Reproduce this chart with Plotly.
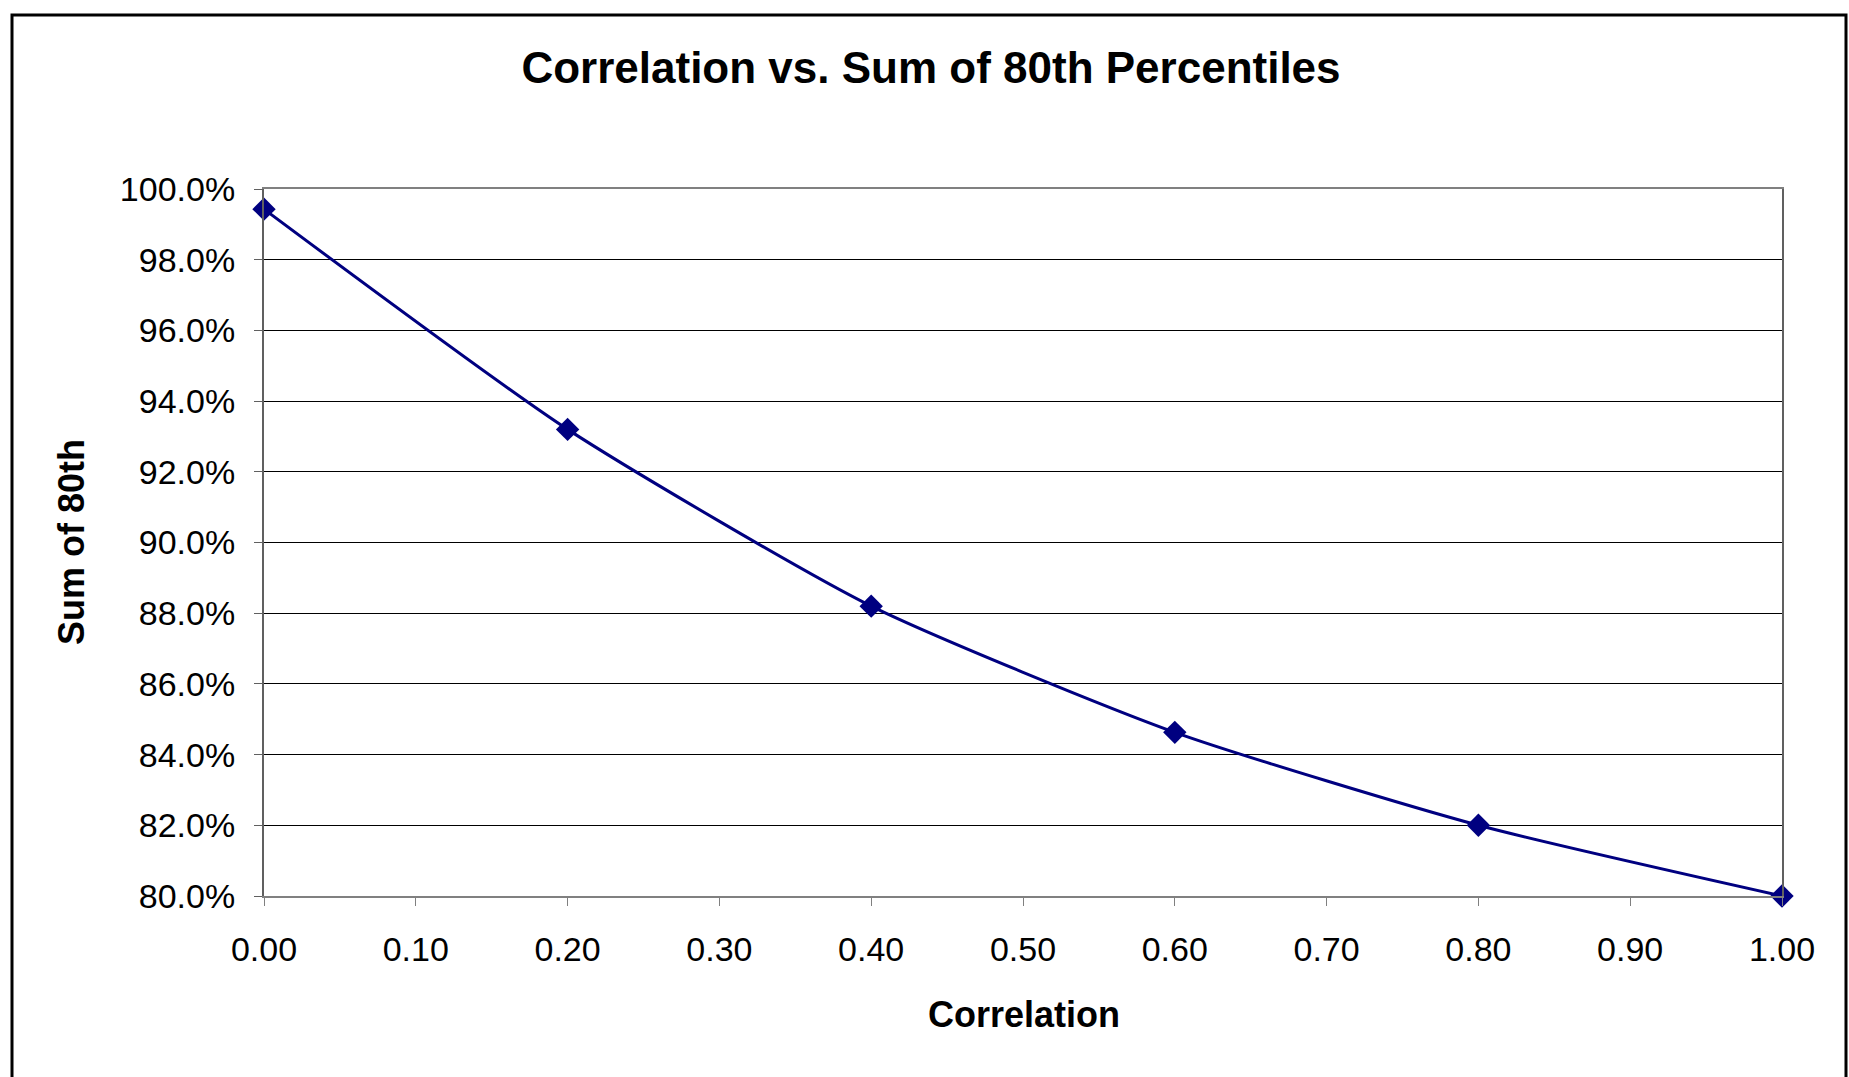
import plotly.graph_objects as go

# Data
correlation = [0.0, 0.2, 0.4, 0.6, 0.8, 1.0]
sum_80th = [0.9943, 0.9320, 0.8820, 0.8463, 0.8200, 0.8000]

title_text = "Correlation vs. Sum of 80th Percentiles"
x_title = "Correlation"
y_title = "Sum of 80th"

W, H = 1849, 1077
L, R, T, B = 264, 1849 - 1782, 189, 1077 - 896
PW, PH = W - L - R, H - T - B

def px_to_paper_x(px):
    return (px - L) / PW

def px_to_paper_y(py):
    return (H - B - py) / PH

FONT = "Arial, 'Liberation Sans', sans-serif"

fig = go.Figure()
fig.add_trace(go.Scatter(
    x=correlation, y=sum_80th,
    mode="lines+markers",
    line=dict(color="#000080", width=3, shape="spline", smoothing=0.6),
    marker=dict(symbol="diamond", size=18, color="#000080"),
    cliponaxis=False,
    showlegend=False,
))

fig.update_layout(
    width=W, height=H,
    margin=dict(l=L, r=R, t=T, b=B),
    paper_bgcolor="white", plot_bgcolor="white",
    title=dict(text=title_text, x=931 / W, xref="container", xanchor="center",
               y=1 - 68 / H, yref="container", yanchor="middle",
               font=dict(family=FONT, size=44, color="black", weight="bold")),
    font=dict(family=FONT, color="black"),
)

fig.update_xaxes(
    range=[0, 1], dtick=0.1, tick0=0, tickformat=".2f",
    showgrid=False, zeroline=False,
    showline=True, linecolor="#808080", linewidth=2, mirror=True,
    ticks="outside", ticklen=8, tickcolor="#808080", tickwidth=1,
    tickfont=dict(family=FONT, size=34, color="black"),
    ticklabelstandoff=14,
)
fig.update_yaxes(
    range=[0.8, 1.0], dtick=0.02, tick0=0.8, tickformat=".1%",
    showgrid=True, gridcolor="#000000", gridwidth=1, zeroline=False,
    showline=True, linecolor="#606060", linewidth=2, mirror=True,
    ticks="outside", ticklen=8, tickcolor="#606060", tickwidth=1,
    tickfont=dict(family=FONT, size=34, color="black"),
    ticklabelstandoff=12,
)

fig.add_annotation(text=x_title, xref="paper", yref="paper",
                   x=px_to_paper_x(1024), y=px_to_paper_y(1014),
                   xanchor="center", yanchor="middle", showarrow=False,
                   font=dict(family=FONT, size=36, color="black", weight="bold"))
fig.add_annotation(text=y_title, xref="paper", yref="paper",
                   x=px_to_paper_x(71), y=px_to_paper_y(542),
                   xanchor="center", yanchor="middle", showarrow=False, textangle=-90,
                   font=dict(family=FONT, size=36, color="black", weight="bold"))

# Outer chart frame
fig.add_shape(type="rect", xref="paper", yref="paper",
              x0=px_to_paper_x(12), x1=px_to_paper_x(1846),
              y0=px_to_paper_y(1085), y1=px_to_paper_y(15),
              line=dict(color="black", width=3), fillcolor="rgba(0,0,0,0)", layer="above")

fig.write_html("out.html")
